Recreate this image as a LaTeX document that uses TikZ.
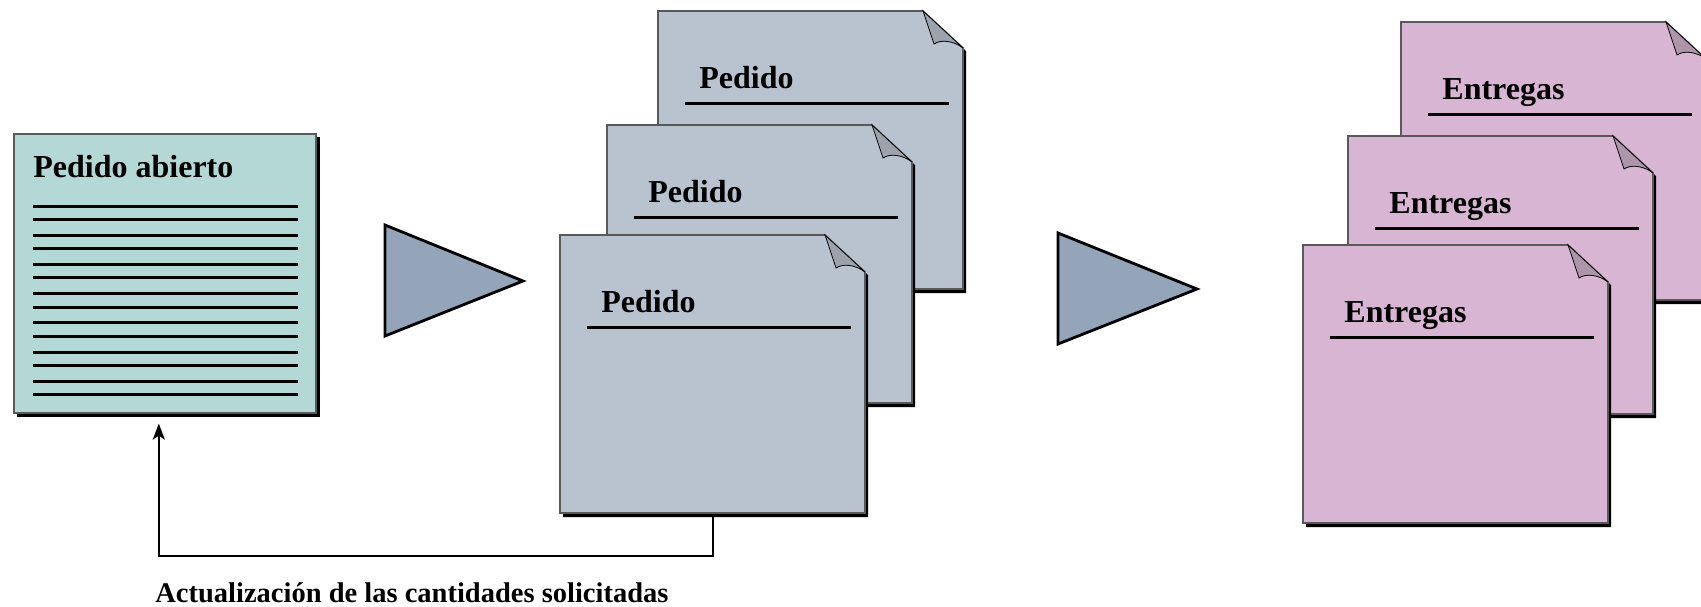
\documentclass[tikz,border=0pt]{standalone}
\usepackage{fontspec}
\setmainfont{Liberation Serif}
\usetikzlibrary{arrows.meta}

\definecolor{abierto}{HTML}{B4D8D5}
\definecolor{pedido}{HTML}{B9C3D0}
\definecolor{entrega}{HTML}{D7B5D3}
\definecolor{plieguep}{HTML}{9DA3AC}
\definecolor{plieguee}{HTML}{AE95AC}
\definecolor{flecha}{HTML}{94A5BA}
\definecolor{borde}{HTML}{595959}

% hoja con esquina doblada: nombre, x, y, relleno, pliegue, titulo
\newcommand{\hoja}[6]{%
  \begin{scope}[shift={(#2,#3)}]
    \fill[black] (3,3) -- (268,3) -- (308,40) -- (308,282) -- (3,282) -- cycle;
    \filldraw[fill=#4, draw=borde, line width=0.8pt] (0,0) -- (265,0) -- (305,37) -- (305,278) -- (0,278) -- cycle;
    \filldraw[fill=#5, draw=black, line width=0.4pt] (265,0) -- (276,33) .. controls (283,28) and (296,30) .. (305,37) -- cycle;
    \node[titulo, anchor=base west] (#1-t) at (41,77) {#6};
    \draw[raya] (27,92) -- (291,92);
    \node[anchor=north west, inner sep=0pt, minimum width=152.5pt, minimum height=139pt] (#1) at (0,0) {};
  \end{scope}}

\begin{document}
\begin{tikzpicture}[x=0.5pt, y=-0.5pt,
  titulo/.style={font=\fontsize{16}{19}\selectfont\bfseries, inner sep=0pt},
  etiqueta/.style={font=\fontsize{14.25}{17}\selectfont\bfseries, inner sep=0pt},
  raya/.style={line width=1.5pt},
  caja/.style={fill=abierto, draw=borde, line width=0.8pt, inner sep=0pt}]
\useasboundingbox (0,0) rectangle (1701,606);

% pedido abierto
\fill[black] (17,137) rectangle (320,417);
\node[caja, anchor=north west, minimum width=151pt, minimum height=139.5pt] (abierto) at (13,133) {};
\node[titulo, anchor=base west] (tabierto) at (33,177) {Pedido abierto};
\foreach \i in {0,...,6}{
  \draw[raya] (33,{206+29.2*\i}) -- (298,{206+29.2*\i});
  \draw[raya] (33,{219.5+29.2*\i}) -- (298,{219.5+29.2*\i});
}

% flechas
\filldraw[fill=flecha, line width=1.4pt] (385,225) -- (385,336) -- (523,281) -- cycle;
\filldraw[fill=flecha, line width=1.4pt] (1058,233) -- (1058,344) -- (1197,289) -- cycle;

% pedidos y entregas
\foreach \n/\x/\y in {ped3/658/11, ped2/607/125, ped1/560/235}{
  \hoja{\n}{\x}{\y}{pedido}{plieguep}{Pedido}
}
\foreach \n/\x/\y in {ent3/1401/22, ent2/1348/136, ent1/1303/245}{
  \hoja{\n}{\x}{\y}{entrega}{plieguee}{Entregas}
}

% actualizacion
\draw[-{Stealth[length=8pt,width=6pt,inset=2pt]}, line width=1.2pt, shorten >=5pt]
  (ped1.south) -- ++(0,42) -| ([xshift=-3pt]abierto.south);
\node[etiqueta, anchor=base west] (nota) at (155,602) {Actualización de las cantidades solicitadas};
\end{tikzpicture}
\end{document}
